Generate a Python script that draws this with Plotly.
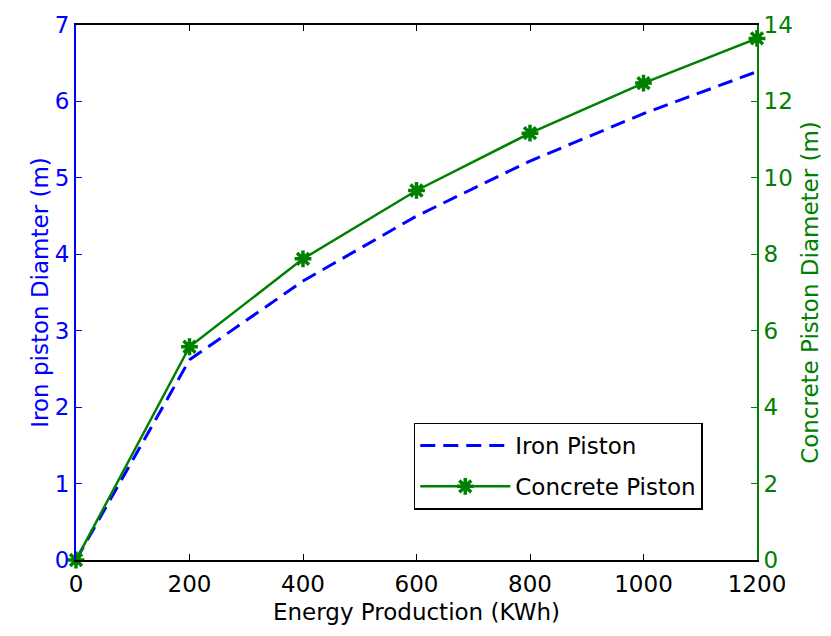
import plotly.graph_objects as go

energy = [0, 200, 400, 600, 800, 1000, 1200]
iron_diam = [0, 2.62, 3.65, 4.50, 5.22, 5.84, 6.39]
concrete_diam = [0, 5.58, 7.88, 9.67, 11.17, 12.48, 13.65]

left_ticks = [0, 1, 2, 3, 4, 5, 6, 7]
right_ticks = [0, 2, 4, 6, 8, 10, 12, 14]
x_ticks = [0, 200, 400, 600, 800, 1000, 1200]

BLUE = "#0000ff"
GREEN = "#008000"
FONT = "DejaVu Sans, Liberation Sans, Arial, sans-serif"
FS = 23

fig = go.Figure()
fig.add_trace(go.Scatter(
    x=energy, y=iron_diam, name="Iron Piston", mode="lines", legendgroup="iron",
    line=dict(color=BLUE, width=3, dash="15px,8px"), yaxis="y"))
fig.add_trace(go.Scatter(
    x=energy, y=concrete_diam, name="Concrete Piston", mode="lines+markers",
    legendgroup="concrete",
    line=dict(color=GREEN, width=2.5),
    marker=dict(symbol="asterisk-open", size=14, color=GREEN, line=dict(color=GREEN, width=3.5)),
    yaxis="y2", cliponaxis=False))

fig.update_layout(
    width=831, height=636,
    margin=dict(l=76, r=71, t=19, b=76),
    plot_bgcolor="white", paper_bgcolor="white",
    font=dict(family=FONT, size=FS, color="black"),
    showlegend=True,
    legend=dict(x=0.496, y=0.257, xanchor="left", yanchor="top",
                bgcolor="white", bordercolor="black", borderwidth=1.5,
                font=dict(size=FS, family=FONT), itemwidth=90,
                tracegroupgap=8),
    xaxis=dict(range=[0, 1200], tickvals=x_ticks, ticks="inside", ticklen=6,
               tickcolor="black", showgrid=False, zeroline=False,
               showline=True, linecolor="black", linewidth=1.5, mirror="ticks",
               ticklabelstandoff=3,
               title=dict(text="Energy Production (KWh)", font=dict(size=FS), standoff=8),
               tickfont=dict(size=FS)),
    yaxis=dict(range=[0, 7], tickvals=left_ticks, ticks="inside", ticklen=6,
               tickcolor=BLUE, showgrid=False, zeroline=False,
               showline=True, linecolor=BLUE, linewidth=2,
               title=dict(text="Iron piston Diamter (m)", font=dict(size=FS, color=BLUE), standoff=0),
               tickfont=dict(size=FS, color=BLUE)),
    yaxis2=dict(range=[0, 14], tickvals=right_ticks, ticks="inside", ticklen=6,
                tickcolor=GREEN, showgrid=False, zeroline=False,
                overlaying="y", side="right",
                showline=True, linecolor=GREEN, linewidth=2,
                title=dict(text="Concrete Piston Diameter (m)", font=dict(size=FS, color=GREEN), standoff=10),
                tickfont=dict(size=FS, color=GREEN)),
)

fig.write_html("out.html")
